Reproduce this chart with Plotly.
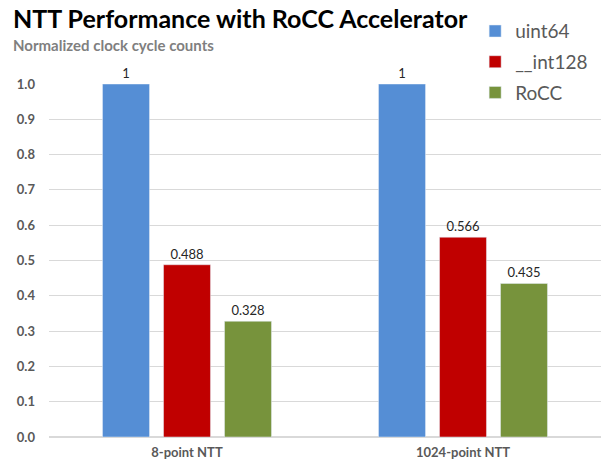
import plotly.graph_objects as go

categories = ["8-point NTT", "1024-point NTT"]
series_names = ["uint64", "__int128", "RoCC"]
uint64_vals = [1, 1]
int128_vals = [0.488, 0.566]
rocc_vals = [0.328, 0.435]
colors = ["#558ED5", "#C00000", "#77933C"]
ytick_vals = [0, 0.1, 0.2, 0.3, 0.4, 0.5, 0.6, 0.7, 0.8, 0.9, 1.0]
ytick_text = ["0.0", "0.1", "0.2", "0.3", "0.4", "0.5", "0.6", "0.7", "0.8", "0.9", "1.0"]

FONT = "Lato"
fig = go.Figure()
for name, vals, col in zip(series_names, [uint64_vals, int128_vals, rocc_vals], colors):
    fig.add_trace(go.Bar(
        x=categories, y=vals, name=name, marker_color=col, legendgroup=name,
        text=[f"{v:g}" for v in vals], textposition="outside",
        textfont=dict(family=FONT, size=13, color="#262626"),
        cliponaxis=False,
    ))

fig.update_layout(
    width=605, height=468,
    paper_bgcolor="white", plot_bgcolor="white",
    margin=dict(l=49, r=4, t=84, b=31, autoexpand=False),
    barmode="group", bargap=0.337, bargroupgap=0.23,
    font=dict(family=FONT),
    annotations=[
        dict(text="<b>NTT Performance with RoCC Accelerator</b>", xref="paper", yref="paper",
             x=-0.069, xanchor="left", y=1.0, yshift=66, yanchor="middle", showarrow=False,
             font=dict(family=FONT, size=25, color="black")),
        dict(text="<b>Normalized clock cycle counts</b>", xref="paper", yref="paper",
             x=-0.069, xanchor="left", y=1.0, yshift=39, yanchor="middle", showarrow=False,
             font=dict(family=FONT, size=15, color="#7F7F7F")),
    ],
    legend=dict(x=0.772, xanchor="left", xref="paper", y=0.974, yanchor="top", yref="container",
                font=dict(family=FONT, size=19, color="#595959"),
                itemwidth=30, tracegroupgap=3, traceorder="grouped"),
    showlegend=True,
)
fig.update_yaxes(range=[0, 1.0], tickvals=ytick_vals, ticktext=ytick_text,
                 showgrid=True, gridcolor="#D9D9D9", zeroline=True, zerolinecolor="#D9D9D9",
                 tickfont=dict(family=FONT, size=13, color="#595959", weight="bold"),
                 ticklabelstandoff=13)
fig.update_xaxes(tickfont=dict(family=FONT, size=13, color="#595959", weight="bold"),
                 showline=False, ticklabelstandoff=6)

fig.write_html("out.html", config={"displayModeBar": False},
               post_script="document.body.style.margin='0';")
